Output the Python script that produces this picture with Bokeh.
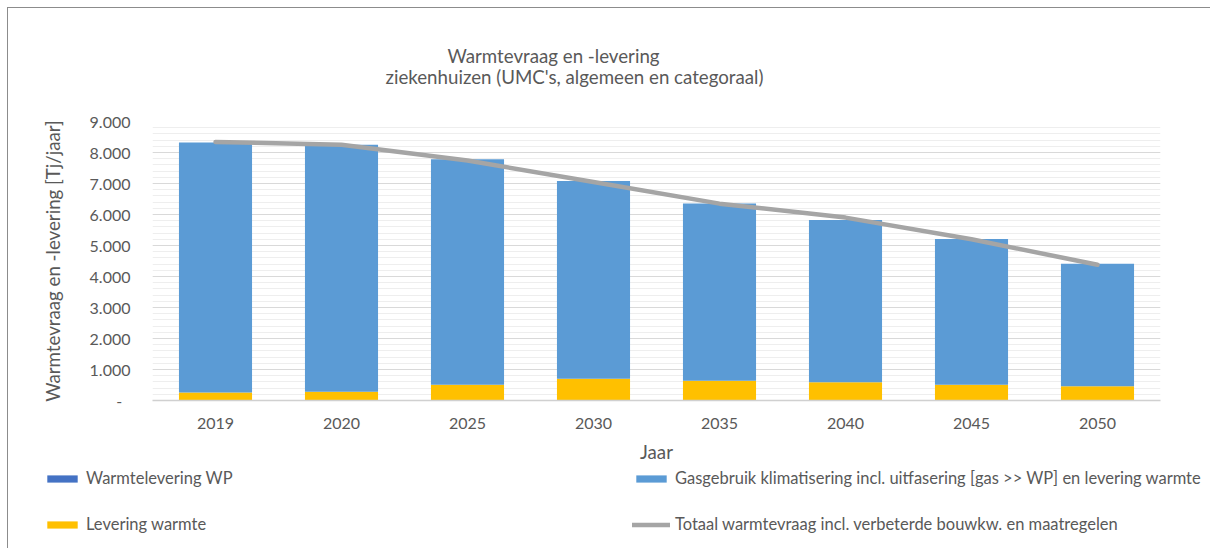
from bokeh.plotting import figure
from bokeh.models import (FixedTicker, CustomJSTickFormatter, Legend, LegendItem,
                          ColumnDataSource, Range1d)
from bokeh.layouts import column
from bokeh.core.properties import value
from bokeh.embed import file_html
from bokeh.resources import INLINE

years = ["2019", "2020", "2025", "2030", "2035", "2040", "2045", "2050"]
levering_warmte = [255, 280, 510, 705, 640, 590, 510, 460]
warmtelevering_wp = [0, 0, 0, 0, 0, 0, 0, 0]
gasgebruik = [8065, 7970, 7270, 6375, 5715, 5230, 4700, 3950]
totaal = [8340, 8250, 7740, 7050, 6350, 5900, 5200, 4380]

title_lines = ["Warmtevraag en -levering", "ziekenhuizen (UMC's, algemeen en categoraal)"]
y_label = "Warmtevraag en -levering [Tj/jaar]"
x_label = "Jaar"
legend_labels = ["Warmtelevering WP", "Levering warmte",
                 "Gasgebruik klimatisering incl. uitfasering [gas >> WP] en levering warmte",
                 "Totaal warmtevraag incl. verbeterde bouwkw. en maatregelen"]
y_ticks = [0, 1000, 2000, 3000, 4000, 5000, 6000, 7000, 8000, 9000]
y_minor = list(range(0, 9001, 200))

FONT = "Lato"
TXT = "#595959"
C_LEV, C_WP, C_GAS, C_TOT = "#FFC000", "#4472C4", "#5B9BD5", "#A5A5A5"
W = 1202

# ---------------- title strip ----------------
TH = 92
pt = figure(width=W, height=TH, x_range=Range1d(0, W), y_range=Range1d(0, TH),
            output_backend="svg", toolbar_location=None, min_border=0, frame_align=False,
            x_axis_location=None, y_axis_location=None, outline_line_color=None)
pt.grid.visible = False
pt.text(x=[545, 566], y=[TH - 47, TH - 68], text=title_lines, text_align="center",
        text_baseline="middle", text_font=value(FONT), text_font_size="18.7px",
        text_color=TXT)

# ---------------- main chart ----------------
src = ColumnDataSource(dict(year=years, lev=levering_warmte, wp=warmtelevering_wp,
                            gas=gasgebruik, tot=totaal))

p = figure(x_range=years, y_range=Range1d(0, 9000), width=W, height=365,
           output_backend="svg", toolbar_location=None, frame_align=False,
           min_border_left=144, min_border_right=50, min_border_top=21, min_border_bottom=63)
p.outline_line_color = None

rs = p.vbar_stack(["lev", "wp", "gas"], x="year", width=0.58, source=src,
                  color=[C_LEV, C_WP, C_GAS], line_color=None)
ln = p.line(x="year", y="tot", source=src, line_color=C_TOT, line_width=4.5,
            line_cap="round", line_join="round")

p.yaxis.ticker = FixedTicker(ticks=y_ticks, minor_ticks=y_minor)
p.yaxis.formatter = CustomJSTickFormatter(code="""
    if (tick == 0) { return "-  "; }
    return (tick/1000).toFixed(0) + ".000";
""")
p.yaxis.axis_line_color = None
p.yaxis.major_tick_line_color = None
p.yaxis.minor_tick_line_color = None
p.yaxis.major_label_text_font = FONT
p.yaxis.major_label_text_font_size = "16px"
p.yaxis.major_label_text_color = TXT
p.yaxis.major_label_standoff = 16
p.yaxis.axis_label = y_label
p.yaxis.axis_label_text_font = FONT
p.yaxis.axis_label_text_font_style = "normal"
p.yaxis.axis_label_text_font_size = "18.7px"
p.yaxis.axis_label_text_color = TXT
p.yaxis.axis_label_standoff = 23

p.xaxis.axis_line_color = "#D0D0D0"
p.xaxis.axis_line_width = 1.5
p.xaxis.major_tick_line_color = None
p.xaxis.minor_tick_line_color = None
p.xaxis.major_label_text_font = FONT
p.xaxis.major_label_text_font_size = "16px"
p.xaxis.major_label_text_color = TXT
p.xaxis.major_label_standoff = 11
p.xaxis.axis_label = x_label
p.xaxis.axis_label_text_font = FONT
p.xaxis.axis_label_text_font_style = "normal"
p.xaxis.axis_label_text_font_size = "18.7px"
p.xaxis.axis_label_text_color = TXT
p.xaxis.axis_label_standoff = 9

p.xgrid.grid_line_color = None
p.ygrid.grid_line_color = "#D9D9D9"
p.ygrid.grid_line_width = 1
p.ygrid.minor_grid_line_color = "#EEEEEE"
p.ygrid.minor_grid_line_width = 1

# ---------------- legend strip ----------------
LH = 83
pl = figure(width=W, height=LH, x_range=Range1d(0, 1), y_range=Range1d(0, 1),
            output_backend="svg", toolbar_location=None, min_border=0, frame_align=False,
            x_axis_location=None, y_axis_location=None, outline_line_color=None)
pl.grid.visible = False
off = ColumnDataSource(dict(x=[5, 6], top=[5, 5]))  # outside the visible range
g_wp = pl.vbar(x="x", top="top", width=0.5, source=off, color=C_WP, line_color=None)
g_lev = pl.vbar(x="x", top="top", width=0.5, source=off, color=C_LEV, line_color=None)
g_gas = pl.vbar(x="x", top="top", width=0.5, source=off, color=C_GAS, line_color=None)
g_tot = pl.line(x="x", y="top", source=off, line_color=C_TOT, line_width=4.5, line_cap="round")

def mk_legend(items, loc):
    return Legend(items=items, location=loc, orientation="vertical",
                  border_line_color=None, background_fill_alpha=0,
                  padding=0, margin=0, spacing=26,
                  glyph_width=38, glyph_height=9, label_height=20, label_standoff=5,
                  label_text_font=FONT, label_text_font_size="16.5px", label_text_color=TXT)

pl.add_layout(mk_legend([LegendItem(label=legend_labels[0], renderers=[g_wp]),
                         LegendItem(label=legend_labels[1], renderers=[g_lev])], (35, 14)))
pl.add_layout(mk_legend([LegendItem(label=legend_labels[2], renderers=[g_gas]),
                         LegendItem(label=legend_labels[3], renderers=[g_tot])], (624, 14)))

layout = column(pt, p, pl, spacing=0,
                styles={"margin-left": "7px", "margin-top": "7px",
                        "border-top": "1px solid #8c8c8c", "border-left": "1px solid #8c8c8c"})

open("out.html", "w").write(file_html(layout, INLINE))
